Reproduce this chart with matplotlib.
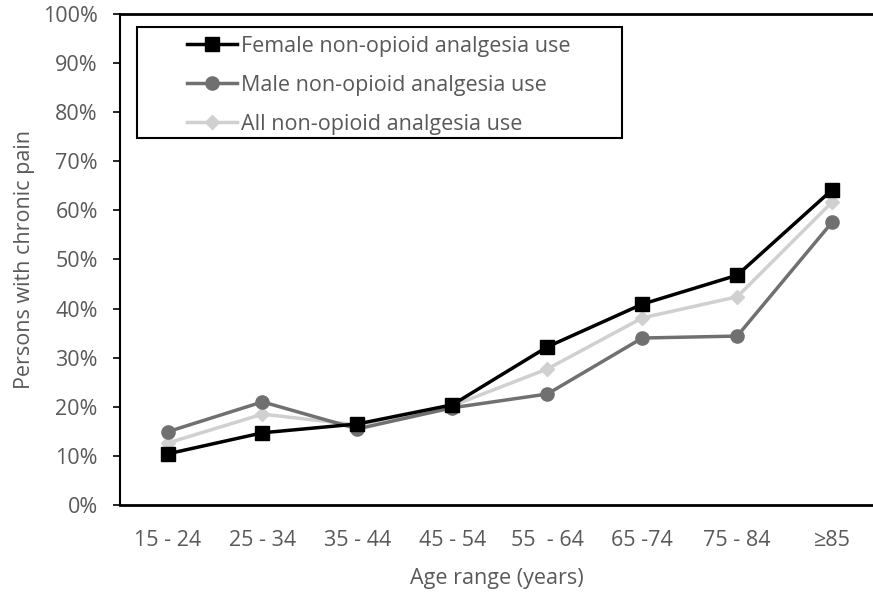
import matplotlib.pyplot as plt
from matplotlib.patches import Rectangle
from matplotlib.ticker import PercentFormatter

# Data
age_groups = ['15 - 24', '25 - 34', '35 - 44', '45 - 54', '55  - 64', '65 -74', '75 - 84', '≥85']
female = [10.4, 14.7, 16.5, 20.4, 32.2, 40.9, 46.8, 64.2]
male = [14.9, 21.0, 15.5, 19.8, 22.6, 34.0, 34.4, 57.6]
all_users = [12.6, 18.5, 16.3, 20.2, 27.7, 38.1, 42.4, 61.7]

plt.rcParams['font.family'] = ['Open Sans', 'DejaVu Sans']
txt = '#595959'
fs = 15.5

fig = plt.figure(figsize=(8.73, 5.92), dpi=100)
ax = fig.add_axes([0.1375, 0.147, 0.8625, 0.8294])

x = range(len(age_groups))
ax.plot(x, all_users, color='#d0d0d0', lw=2.5, marker='D', ms=7.5, label='All non-opioid analgesia use', zorder=2)
ax.plot(x, male, color='#707070', lw=2.5, marker='o', ms=9.5, label='Male non-opioid analgesia use', zorder=3)
ax.plot(x, female, color='black', lw=2.5, marker='s', ms=9.5, label='Female non-opioid analgesia use', zorder=4)

ax.set_ylim(0, 100)
ax.set_xlim(-0.5, 7.43)
ax.set_yticks(range(0, 101, 10))
ax.yaxis.set_major_formatter(PercentFormatter(decimals=0))
ax.set_xticks(list(x))
ax.set_xticklabels(age_groups)
ax.tick_params(axis='both', colors=txt, labelsize=fs, color='black')
ax.tick_params(axis='y', length=5, width=1.2, pad=11)
ax.tick_params(axis='x', length=0, pad=18)

ax.spines['right'].set_visible(False)
for s in ['left', 'bottom', 'top']:
    ax.spines[s].set_color('black')
    ax.spines[s].set_linewidth(2)
ax.spines['left'].set_linewidth(1.5)

ax.set_xlabel('Age range (years)', color=txt, fontsize=fs, labelpad=12)
ax.set_ylabel('Persons with chronic pain', color=txt, fontsize=fs, labelpad=6)

# legend frame drawn separately so it can be wider than the entries
ax.add_patch(Rectangle((0.0226, 0.7475), 0.644, 0.226, transform=ax.transAxes,
                       fill=True, facecolor='white', edgecolor='black', lw=1.5, zorder=5))
h, l = ax.get_legend_handles_labels()
leg = ax.legend(h[::-1], l[::-1], loc='upper left', bbox_to_anchor=(0.089, 0.956),
                fontsize=fs, frameon=False, borderpad=0, borderaxespad=0,
                handlelength=2.3, handletextpad=0.2, labelspacing=0.84)
leg.set_zorder(6)
for t in leg.get_texts():
    t.set_color(txt)

fig.savefig('out.png', dpi=100)
